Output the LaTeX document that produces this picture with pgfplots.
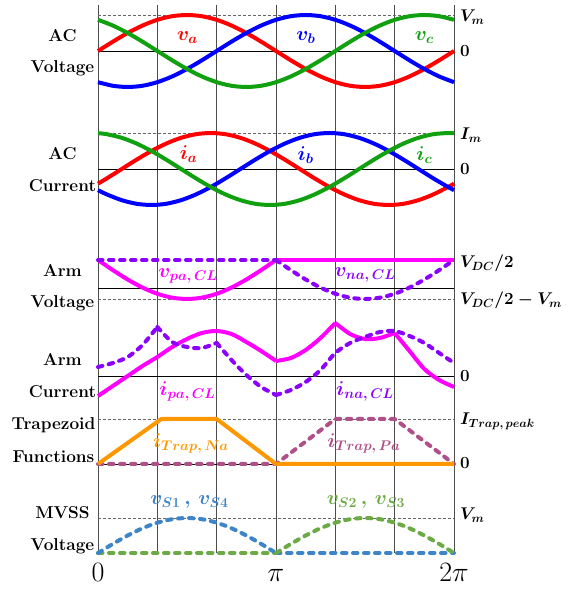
\documentclass[border=0pt]{standalone}
\usepackage{fix-cm}
\usepackage{pgfplots}
\pgfplotsset{compat=1.18}
\usepackage{pgfplotstable}

\definecolor{phA}{RGB}{255,0,0}
\definecolor{phB}{RGB}{0,0,255}
\definecolor{phC}{RGB}{16,160,16}
\definecolor{armP}{RGB}{255,0,255}
\definecolor{armN}{RGB}{140,0,255}
\definecolor{trapN}{RGB}{255,152,0}
\definecolor{trapP}{RGB}{176,80,136}
\definecolor{swA}{RGB}{62,132,200}
\definecolor{swB}{RGB}{108,170,70}

% three-phase voltages, per unit, angle in degrees
\pgfplotstableread{
deg va     vb     vc
0   0      -0.866 0.866
15  0.259  -0.966 0.707
30  0.5    -1     0.5
45  0.707  -0.966 0.259
60  0.866  -0.866 0
75  0.966  -0.707 -0.259
90  1      -0.5   -0.5
105 0.966  -0.259 -0.707
120 0.866  0      -0.866
135 0.707  0.259  -0.966
150 0.5    0.5    -1
165 0.259  0.707  -0.966
180 0      0.866  -0.866
195 -0.259 0.966  -0.707
210 -0.5   1      -0.5
225 -0.707 0.966  -0.259
240 -0.866 0.866  0
255 -0.966 0.707  0.259
270 -1     0.5    0.5
285 -0.966 0.259  0.707
300 -0.866 0      0.866
315 -0.707 -0.259 0.966
330 -0.5   -0.5   1
345 -0.259 -0.707 0.966
360 0      -0.866 0.866
}\acvolt

% three-phase currents, per unit (lagging the voltages)
\pgfplotstableread{
deg ia     ib     ic
0   -0.407 -0.588 0.995
9   -0.259 -0.707 0.966
24  0      -0.866 0.866
39  0.259  -0.966 0.707
54  0.5    -1     0.5
69  0.707  -0.966 0.259
84  0.866  -0.866 0
99  0.966  -0.707 -0.259
114 1      -0.5   -0.5
129 0.966  -0.259 -0.707
144 0.866  0      -0.866
159 0.707  0.259  -0.966
174 0.5    0.5    -1
189 0.259  0.707  -0.966
204 0      0.866  -0.866
219 -0.259 0.966  -0.707
234 -0.5   1      -0.5
249 -0.707 0.966  -0.259
264 -0.866 0.866  0
279 -0.966 0.707  0.259
294 -1     0.5    0.5
309 -0.966 0.259  0.707
324 -0.866 0      0.866
339 -0.707 -0.259 0.966
354 -0.5   -0.5   1
360 -0.407 -0.588 0.995
}\accurr

% arm voltage dips below V_DC/2, per unit of V_m
\pgfplotstableread{
deg vp    vn
0   0     0
15  0.259 0
30  0.5   0
45  0.707 0
60  0.866 0
75  0.966 0
90  1     0
105 0.966 0
120 0.866 0
135 0.707 0
150 0.5   0
165 0.259 0
180 0     0
195 0     0.259
210 0     0.5
225 0     0.707
240 0     0.866
255 0     0.966
270 0     1
285 0     0.966
300 0     0.866
315 0     0.707
330 0     0.5
345 0     0.259
360 0     0
}\armvolt

% arm currents
\pgfplotstableread{
deg ipa ina
0   -20 9
15  -10 13
30  0   19
45  10  31
60  19  49
75  29  34
90  37  29
105 43  28
120 45  33
135 42  16
150 34  1
165 25  -11
180 15  -19
195 18  -14
210 26  -6
225 38  6
240 53  23
255 42  33
270 37  39
285 38  44
300 43  45
315 25  40
330 7   33
345 -4  23
360 -11 13
}\armcurr

% trapezoidal circulating-current references
\pgfplotstableread{
deg tn tp
0   0  0
64  45 0
120 45 0
180 0  0
240 0  45
300 0  45
360 0  0
}\trap

% switch voltages, per unit of V_m
\pgfplotstableread{
deg s1    s2
0   0     0
15  0.259 0
30  0.5   0
45  0.707 0
60  0.866 0
75  0.966 0
90  1     0
105 0.966 0
120 0.866 0
135 0.707 0
150 0.5   0
165 0.259 0
180 0     0
195 0     0.259
210 0     0.5
225 0     0.707
240 0     0.866
255 0     0.966
270 0     1
285 0     0.966
300 0     0.866
315 0     0.707
330 0     0.5
345 0     0.259
360 0     0
}\mvss

\tikzset{
  zeroline/.style={black, line width=0.8pt},
  peakline/.style={black!60, line width=0.8pt, dash pattern=on 3pt off 2pt},
  dsh/.style={dash pattern=on 4.5pt off 6.5pt, line cap=round},
  lab/.style={anchor=base, font=\fontsize{17.2}{20}\selectfont\bfseries},
  rlab/.style={anchor=base west, inner sep=0pt, font=\fontsize{17}{20}\selectfont\boldmath},
  clab/.style={anchor=base, font=\fontsize{20}{24}\selectfont\boldmath},
}

\begin{document}
\begin{tikzpicture}
\useasboundingbox (0,0) rectangle (579pt,589pt);
\begin{axis}[
  at={(98pt,36pt)}, anchor=south west,
  scale only axis, width=356pt, height=548pt,
  xmin=0, xmax=360, ymin=-553, ymax=-5,
  clip=false,
  axis line style={draw=none},
  ytick=\empty,
  xtick={0,60,...,360},
  xticklabels={$0$,,,$\pi$,,,$2\pi$},
  major tick length=0pt,
  xmajorgrids,
  grid style={black!70, line width=0.8pt},
  xticklabel style={font=\fontsize{28}{30}\selectfont, anchor=base, yshift=-29pt},
  every axis plot/.append style={line width=4pt, line join=round},
]
% reference levels
\addplot[peakline] coordinates {(0,-15) (360,-15)};
\addplot[zeroline] coordinates {(0,-51) (360,-51)};
\addplot[peakline] coordinates {(0,-133) (360,-133)};
\addplot[zeroline] coordinates {(0,-169) (360,-169)};
\addplot[zeroline] coordinates {(0,-288) (360,-288)};
\addplot[peakline] coordinates {(0,-299) (360,-299)};
\addplot[zeroline] coordinates {(0,-376) (360,-376)};
\addplot[peakline] coordinates {(0,-419) (360,-419)};
\addplot[zeroline] coordinates {(0,-464) (360,-464)};
\addplot[peakline] coordinates {(0,-518) (360,-518)};

% AC voltages
\addplot[phA, smooth] table[x=deg, y expr=-51+36*\thisrow{va}] {\acvolt};
\addplot[phB, smooth] table[x=deg, y expr=-51+36*\thisrow{vb}] {\acvolt};
\addplot[phC, smooth] table[x=deg, y expr=-51+36*\thisrow{vc}] {\acvolt};

% AC currents
\addplot[phA, smooth] table[x=deg, y expr=-169+36*\thisrow{ia}] {\accurr};
\addplot[phB, smooth] table[x=deg, y expr=-169+36*\thisrow{ib}] {\accurr};
\addplot[phC, smooth] table[x=deg, y expr=-169+36*\thisrow{ic}] {\accurr};

% arm voltages
\addplot[armP, smooth, restrict x to domain=0:180] table[x=deg, y expr=-260-39*\thisrow{vp}] {\armvolt};
\addplot[armP, restrict x to domain=180:360] table[x=deg, y expr=-260-39*\thisrow{vp}] {\armvolt};
\addplot[armN, dsh, restrict x to domain=0:180] table[x=deg, y expr=-260-39*\thisrow{vn}] {\armvolt};
\addplot[armN, dsh, smooth, restrict x to domain=180:360] table[x=deg, y expr=-260-39*\thisrow{vn}] {\armvolt};

% arm currents
\addplot[armP, smooth, restrict x to domain=0:180] table[x=deg, y expr=-376+\thisrow{ipa}] {\armcurr};
\addplot[armP, smooth, restrict x to domain=180:240] table[x=deg, y expr=-376+\thisrow{ipa}] {\armcurr};
\addplot[armP, smooth, restrict x to domain=240:300] table[x=deg, y expr=-376+\thisrow{ipa}] {\armcurr};
\addplot[armP, smooth, restrict x to domain=300:360] table[x=deg, y expr=-376+\thisrow{ipa}] {\armcurr};
\addplot[armN, dsh, smooth, restrict x to domain=0:60] table[x=deg, y expr=-376+\thisrow{ina}] {\armcurr};
\addplot[armN, dsh, smooth, restrict x to domain=60:120] table[x=deg, y expr=-376+\thisrow{ina}] {\armcurr};
\addplot[armN, dsh, smooth, restrict x to domain=120:180] table[x=deg, y expr=-376+\thisrow{ina}] {\armcurr};
\addplot[armN, dsh, smooth, restrict x to domain=180:360] table[x=deg, y expr=-376+\thisrow{ina}] {\armcurr};

% trapezoid functions
\addplot[trapP, dsh] table[x=deg, y expr=-464+\thisrow{tp}] {\trap};
\addplot[trapN] table[x=deg, y expr=-464+\thisrow{tn}] {\trap};

% switch voltages
\addplot[swB, dsh, restrict x to domain=0:180] table[x=deg, y expr=-553+35*\thisrow{s2}] {\mvss};
\addplot[swA, dsh, smooth, restrict x to domain=0:180] table[x=deg, y expr=-553+35*\thisrow{s1}] {\mvss};
\addplot[swA, dsh, restrict x to domain=180:360] table[x=deg, y expr=-553+35*\thisrow{s1}] {\mvss};
\addplot[swB, dsh, smooth, restrict x to domain=180:360] table[x=deg, y expr=-553+35*\thisrow{s2}] {\mvss};

% row titles
\node[lab] at (axis cs:-35.9,-42) {AC};
\node[lab] at (axis cs:-35.9,-73) {Voltage};
\node[lab] at (axis cs:-35.9,-160) {AC};
\node[lab] at (axis cs:-35.9,-192) {Current};
\node[lab] at (axis cs:-35.9,-277) {Arm};
\node[lab] at (axis cs:-35.9,-308) {Voltage};
\node[lab] at (axis cs:-35.9,-366) {Arm};
\node[lab] at (axis cs:-35.9,-398) {Current};
\node[lab] at (axis cs:-45.0,-430) {Trapezoid};
\node[lab] at (axis cs:-45.0,-463) {Functions};
\node[lab] at (axis cs:-35.9,-519) {MVSS};
\node[lab] at (axis cs:-35.9,-551) {Voltage};

% level labels
\node[rlab] at (axis cs:366,-22) {$V_m$};
\node[rlab] at (axis cs:366,-57) {$0$};
\node[rlab] at (axis cs:366,-140) {$I_m$};
\node[rlab] at (axis cs:366,-175) {$0$};
\node[rlab] at (axis cs:366,-268) {$V_{DC}/2$};
\node[rlab] at (axis cs:366,-305) {$V_{DC}/2-V_m$};
\node[rlab] at (axis cs:366,-382) {$0$};
\node[rlab] at (axis cs:366,-425) {$I_{Trap,\,peak}$};
\node[rlab] at (axis cs:366,-469) {$0$};
\node[rlab] at (axis cs:366,-520) {$V_m$};

% curve names
\node[clab, text=phA] at (axis cs:90.5,-41) {$v_a$};
\node[clab, text=phB] at (axis cs:210.3,-41) {$v_b$};
\node[clab, text=phC] at (axis cs:330,-41) {$v_c$};
\node[clab, text=phA] at (axis cs:91.5,-160) {$i_a$};
\node[clab, text=phB] at (axis cs:210,-161) {$i_b$};
\node[clab, text=phC] at (axis cs:330,-161) {$i_c$};
\node[clab, text=armP] at (axis cs:91,-278) {$v_{pa,\,CL}$};
\node[clab, text=armN] at (axis cs:270,-277) {$v_{na,\,CL}$};
\node[clab, text=armP] at (axis cs:90.5,-396) {$i_{pa,\,CL}$};
\node[clab, text=armN] at (axis cs:270,-396) {$i_{na,\,CL}$};
\node[clab, text=trapN] at (axis cs:94,-448) {$i_{Trap,\,Na}$};
\node[clab, text=trapP] at (axis cs:269,-448) {$i_{Trap,\,Pa}$};
\node[clab, text=swA] at (axis cs:92.5,-505) {$v_{S1}\,,\,v_{S4}$};
\node[clab, text=swB] at (axis cs:271,-505) {$v_{S2}\,,\,v_{S3}$};
\end{axis}
\end{tikzpicture}
\end{document}
